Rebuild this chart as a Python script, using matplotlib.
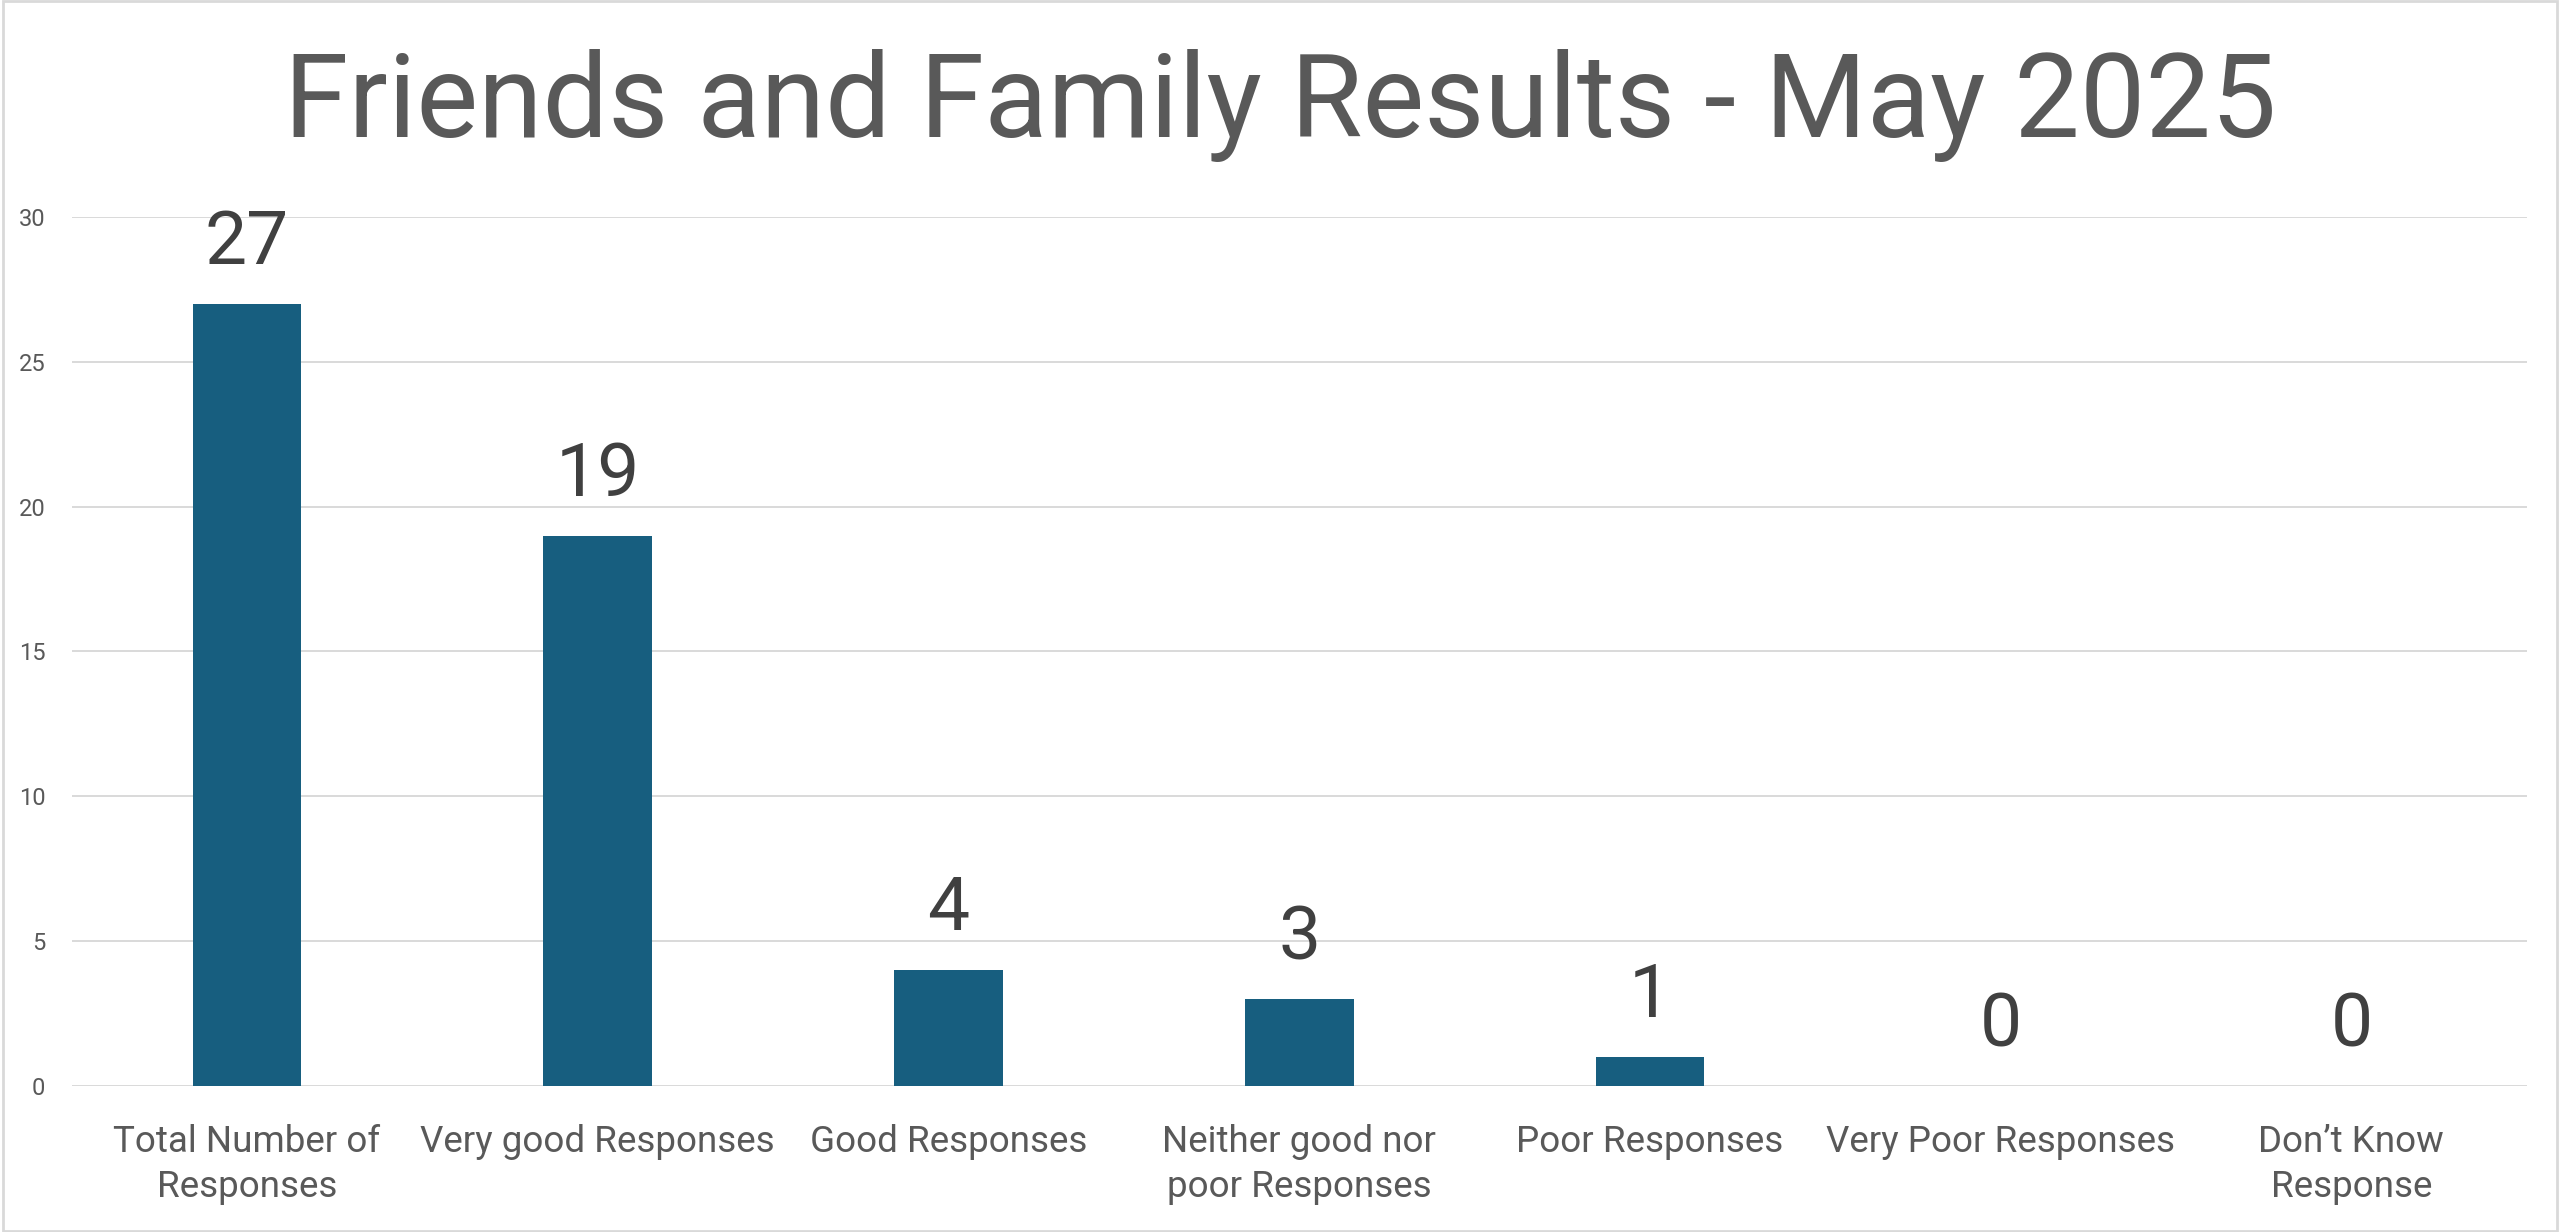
import numpy as np
import matplotlib.pyplot as plt
from matplotlib.patches import Rectangle

plt.rcParams['font.family'] = ['Roboto', 'DejaVu Sans']

categories = ['Total Number of\nResponses', 'Very good Responses', 'Good Responses',
              'Neither good nor\npoor Responses', 'Poor Responses', 'Very Poor Responses',
              'Don\u2019t Know\nResponse']
counts = [27, 19, 4, 3, 1, 0, 0]
y_ticks = [0, 5, 10, 15, 20, 25, 30]

bar_color = '#175E7F'
text_color = '#595959'
label_color = '#404040'
grid_color = '#D9D9D9'

fig = plt.figure(figsize=(25.6, 12.32), dpi=100)
ax = fig.add_axes([0.028, 0.1185, 0.959, 0.7054])

x = np.arange(len(categories))
bars = ax.bar(x, counts, width=0.31, color=bar_color, zorder=3)

for xi, v in zip(x, counts):
    ax.annotate(str(v), (xi, v), xytext=(0, 18), textcoords='offset points',
                ha='center', va='bottom', fontsize=54, color=label_color)

ax.set_xlim(-0.5, len(categories) - 0.5)
ax.set_ylim(0, 30)
ax.set_yticks(y_ticks)
ax.set_xticks(x)
ax.set_xticklabels(categories, fontsize=26.5, color=text_color, linespacing=1.35)
ax.tick_params(axis='x', length=0, pad=27)
ax.tick_params(axis='y', length=0, pad=19, labelsize=17, labelcolor=text_color)
ax.grid(axis='y', color=grid_color, linewidth=1.4, zorder=0)
for s in ax.spines.values():
    s.set_visible(False)

fig.text(0.5, 0.914, 'Friends and Family Results - May 2025', ha='center', va='center',
         fontsize=84, color=text_color)

fig.patches.append(Rectangle((0.001, 0.001), 0.998, 0.998, transform=fig.transFigure,
                             fill=False, edgecolor=grid_color, linewidth=2))

fig.savefig('out.png', dpi=100)
